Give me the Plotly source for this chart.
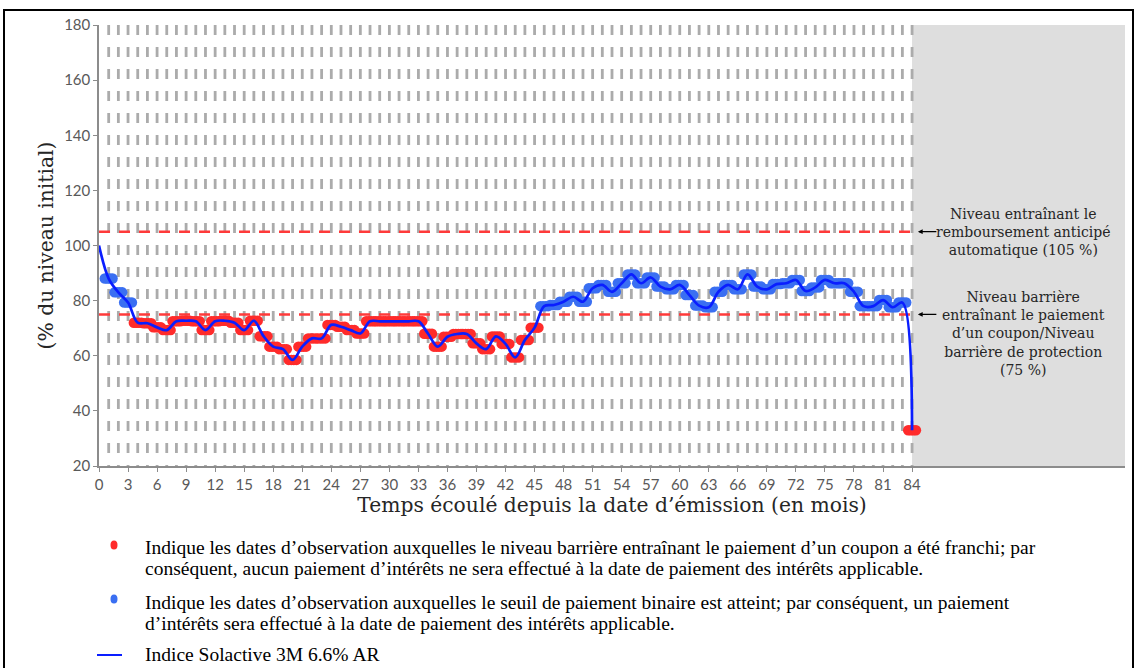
import plotly.graph_objects as go

# ---------------- data ----------------
months = list(range(0, 85))
index_level = [100, 88, 83, 79.3, 72, 71.8, 70.3, 69.3, 72.5, 72.7,
               72.5, 69.3, 72.5, 72.7, 72, 69.3, 72.7, 67.1, 63.3, 62.4,
               58.5, 63.3, 66.3, 66.3, 71.2, 70.5, 69.3, 68.1, 72.5, 72.5,
               72.5, 72.5, 72.5, 72.5, 68, 63.3, 66.9, 67.9, 67.9, 64.5,
               62.4, 67, 64.3, 59.4, 65.7, 70.2, 78, 78.4, 79.6, 81.4,
               79.6, 84.5, 85.7, 83.2, 86.3, 89.5, 86.3, 88.4, 85.1, 84.1,
               85.7, 82, 78.2, 77.6, 83.2, 85.7, 84.1, 89.5, 85.1, 84.1,
               86, 86.3, 87.5, 83.5, 84.8, 87.5, 86.3, 86.3, 83.2, 78,
               78, 80.2, 77.6, 79.3, 33]
observation_months = list(range(1, 85))
autocall_level = 105
barrier_level = 75
x_tick_labels = list(range(0, 85, 3))
y_tick_labels = list(range(20, 181, 20))

# ---------------- geometry ----------------
W, H = 1136, 668
ML, MR, MT, MB = 99, 11, 25, 202
PW, PH = W - ML - MR, H - MT - MB
X_MAX = 106


def px(xp):
    return (xp - ML) / PW


def py(yp):
    return 1 - (yp - MT) / PH


fig = go.Figure()

# vertical dashed month lines
vx, vy = [], []
for m in observation_months:
    vx += [m, m, None]
    vy += [180, 20, None]
fig.add_trace(go.Scatter(x=vx, y=vy, mode="lines",
                         line=dict(color="#ababab", width=2.8, dash="10px,12px"),
                         hoverinfo="skip", showlegend=False))

# horizontal red dashed levels
fig.add_trace(go.Scatter(x=[0, 84, None, 0, 84],
                         y=[autocall_level, autocall_level, None, barrier_level, barrier_level],
                         mode="lines",
                         line=dict(color="#ff3a3a", width=2.5, dash="11px,9px"),
                         hoverinfo="skip", showlegend=False))

# observation markers (elongated blobs)
offsets = [-0.4, -0.13, 0.13, 0.4]
for is_above, col in [(False, "#ff2b2b"), (True, "#3a6ff2")]:
    mx, my = [], []
    for m in observation_months:
        v = index_level[m]
        if (v >= barrier_level) == is_above:
            for o in offsets:
                mx.append(m + o)
                my.append(v)
    fig.add_trace(go.Scatter(x=mx, y=my, mode="markers",
                             marker=dict(color=col, size=10.5, line=dict(width=0)),
                             hoverinfo="skip", showlegend=False))

# index line
fig.add_trace(go.Scatter(x=months, y=index_level, mode="lines",
                         line=dict(color="#0a1eff", width=2.7, shape="spline", smoothing=1),
                         name="Indice Solactive 3M 6.6% AR", showlegend=False))

shapes = [
    dict(type="rect", xref="x", yref="y", x0=84, x1=X_MAX, y0=20, y1=180,
         fillcolor="#dedede", line=dict(width=0), layer="below"),
    # outer frame
    dict(type="rect", xref="paper", yref="paper", x0=px(4), x1=px(1133),
         y0=py(672), y1=py(10), line=dict(color="black", width=2), fillcolor="rgba(0,0,0,0)"),
    # legend bullets
    dict(type="circle", xref="paper", yref="paper", xsizemode="pixel", ysizemode="pixel",
         xanchor=px(114), yanchor=py(545), x0=-3.5, x1=3.5, y0=-4.5, y1=4.5,
         fillcolor="#ff2b2b", line=dict(width=0)),
    dict(type="circle", xref="paper", yref="paper", xsizemode="pixel", ysizemode="pixel",
         xanchor=px(114), yanchor=py(599), x0=-3.5, x1=3.5, y0=-4.5, y1=4.5,
         fillcolor="#3a6ff2", line=dict(width=0)),
    dict(type="line", xref="paper", yref="paper", x0=px(97), x1=px(122),
         y0=py(655), y1=py(655), line=dict(color="#0a1eff", width=2)),
]

ann_font = dict(family="DejaVu Serif", size=14, color="#262626")
annotations = [
    dict(x=95.5, y=autocall_level, xref="x", yref="y", showarrow=False,
         text="Niveau entraînant le<br>remboursement anticipé<br>automatique (105 %)",
         font=ann_font, align="center", xanchor="center", yanchor="middle"),
    dict(x=95.5, y=68.2, xref="x", yref="y", showarrow=False,
         text="Niveau barrière<br>entraînant le paiement<br>d’un coupon/Niveau<br>barrière de protection<br>(75 %)",
         font=ann_font, align="center", xanchor="center", yanchor="middle"),
    dict(x=84.6, y=autocall_level, xref="x", yref="y", text="", showarrow=True,
         ax=20, ay=0, arrowhead=2, arrowsize=0.8, arrowwidth=1.2, arrowcolor="black"),
    dict(x=84.6, y=barrier_level, xref="x", yref="y", text="", showarrow=True,
         ax=20, ay=0, arrowhead=2, arrowsize=0.8, arrowwidth=1.2, arrowcolor="black"),
]

legend_lines = [
    (547, "Indique les dates d’observation auxquelles le niveau barrière entraînant le paiement d’un coupon a été franchi; par"),
    (568, "conséquent, aucun paiement d’intérêts ne sera effectué à la date de paiement des intérêts applicable."),
    (602, "Indique les dates d’observation auxquelles le seuil de paiement binaire est atteint; par conséquent, un paiement"),
    (623, "d’intérêts sera effectué à la date de paiement des intérêts applicable."),
    (654, "Indice Solactive 3M 6.6% AR"),
]
for yy, t in legend_lines:
    annotations.append(dict(x=px(143), y=py(yy), xref="paper", yref="paper", text=t,
                            showarrow=False, xanchor="left", yanchor="middle",
                            font=dict(family="Liberation Serif", size=19.5, color="black")))

tickfont = dict(family="Lato", size=15, color="#595959")
fig.update_layout(
    width=W, height=H,
    margin=dict(l=ML, r=MR, t=MT, b=MB),
    paper_bgcolor="white", plot_bgcolor="white",
    showlegend=False,
    shapes=shapes, annotations=annotations,
    xaxis=dict(range=[0, X_MAX], tickvals=x_tick_labels, ticktext=[str(v) for v in x_tick_labels],
               showgrid=False, zeroline=False, showline=True, linecolor="#8c8c8c", linewidth=1.5,
               ticks="outside", ticklen=4, tickcolor="#8c8c8c", tickfont=tickfont,
               title=dict(text="Temps écoulé depuis la date d’émission (en mois)",
                          font=dict(family="DejaVu Serif", size=20.3, color="#262626"), standoff=4)),
    yaxis=dict(range=[20, 180], tickvals=y_tick_labels, ticktext=[str(v) for v in y_tick_labels],
               showgrid=False, zeroline=False, showline=True, linecolor="#8c8c8c", linewidth=1.5,
               ticks="outside", ticklen=4, tickcolor="#8c8c8c", tickfont=tickfont,
               title=dict(text="(% du niveau initial)",
                          font=dict(family="DejaVu Serif", size=20.3, color="#262626"), standoff=5)),
)

fig.write_html("out.html", config={"displayModeBar": False},
               post_script="document.body.style.margin='0px';document.body.style.overflow='hidden';")
